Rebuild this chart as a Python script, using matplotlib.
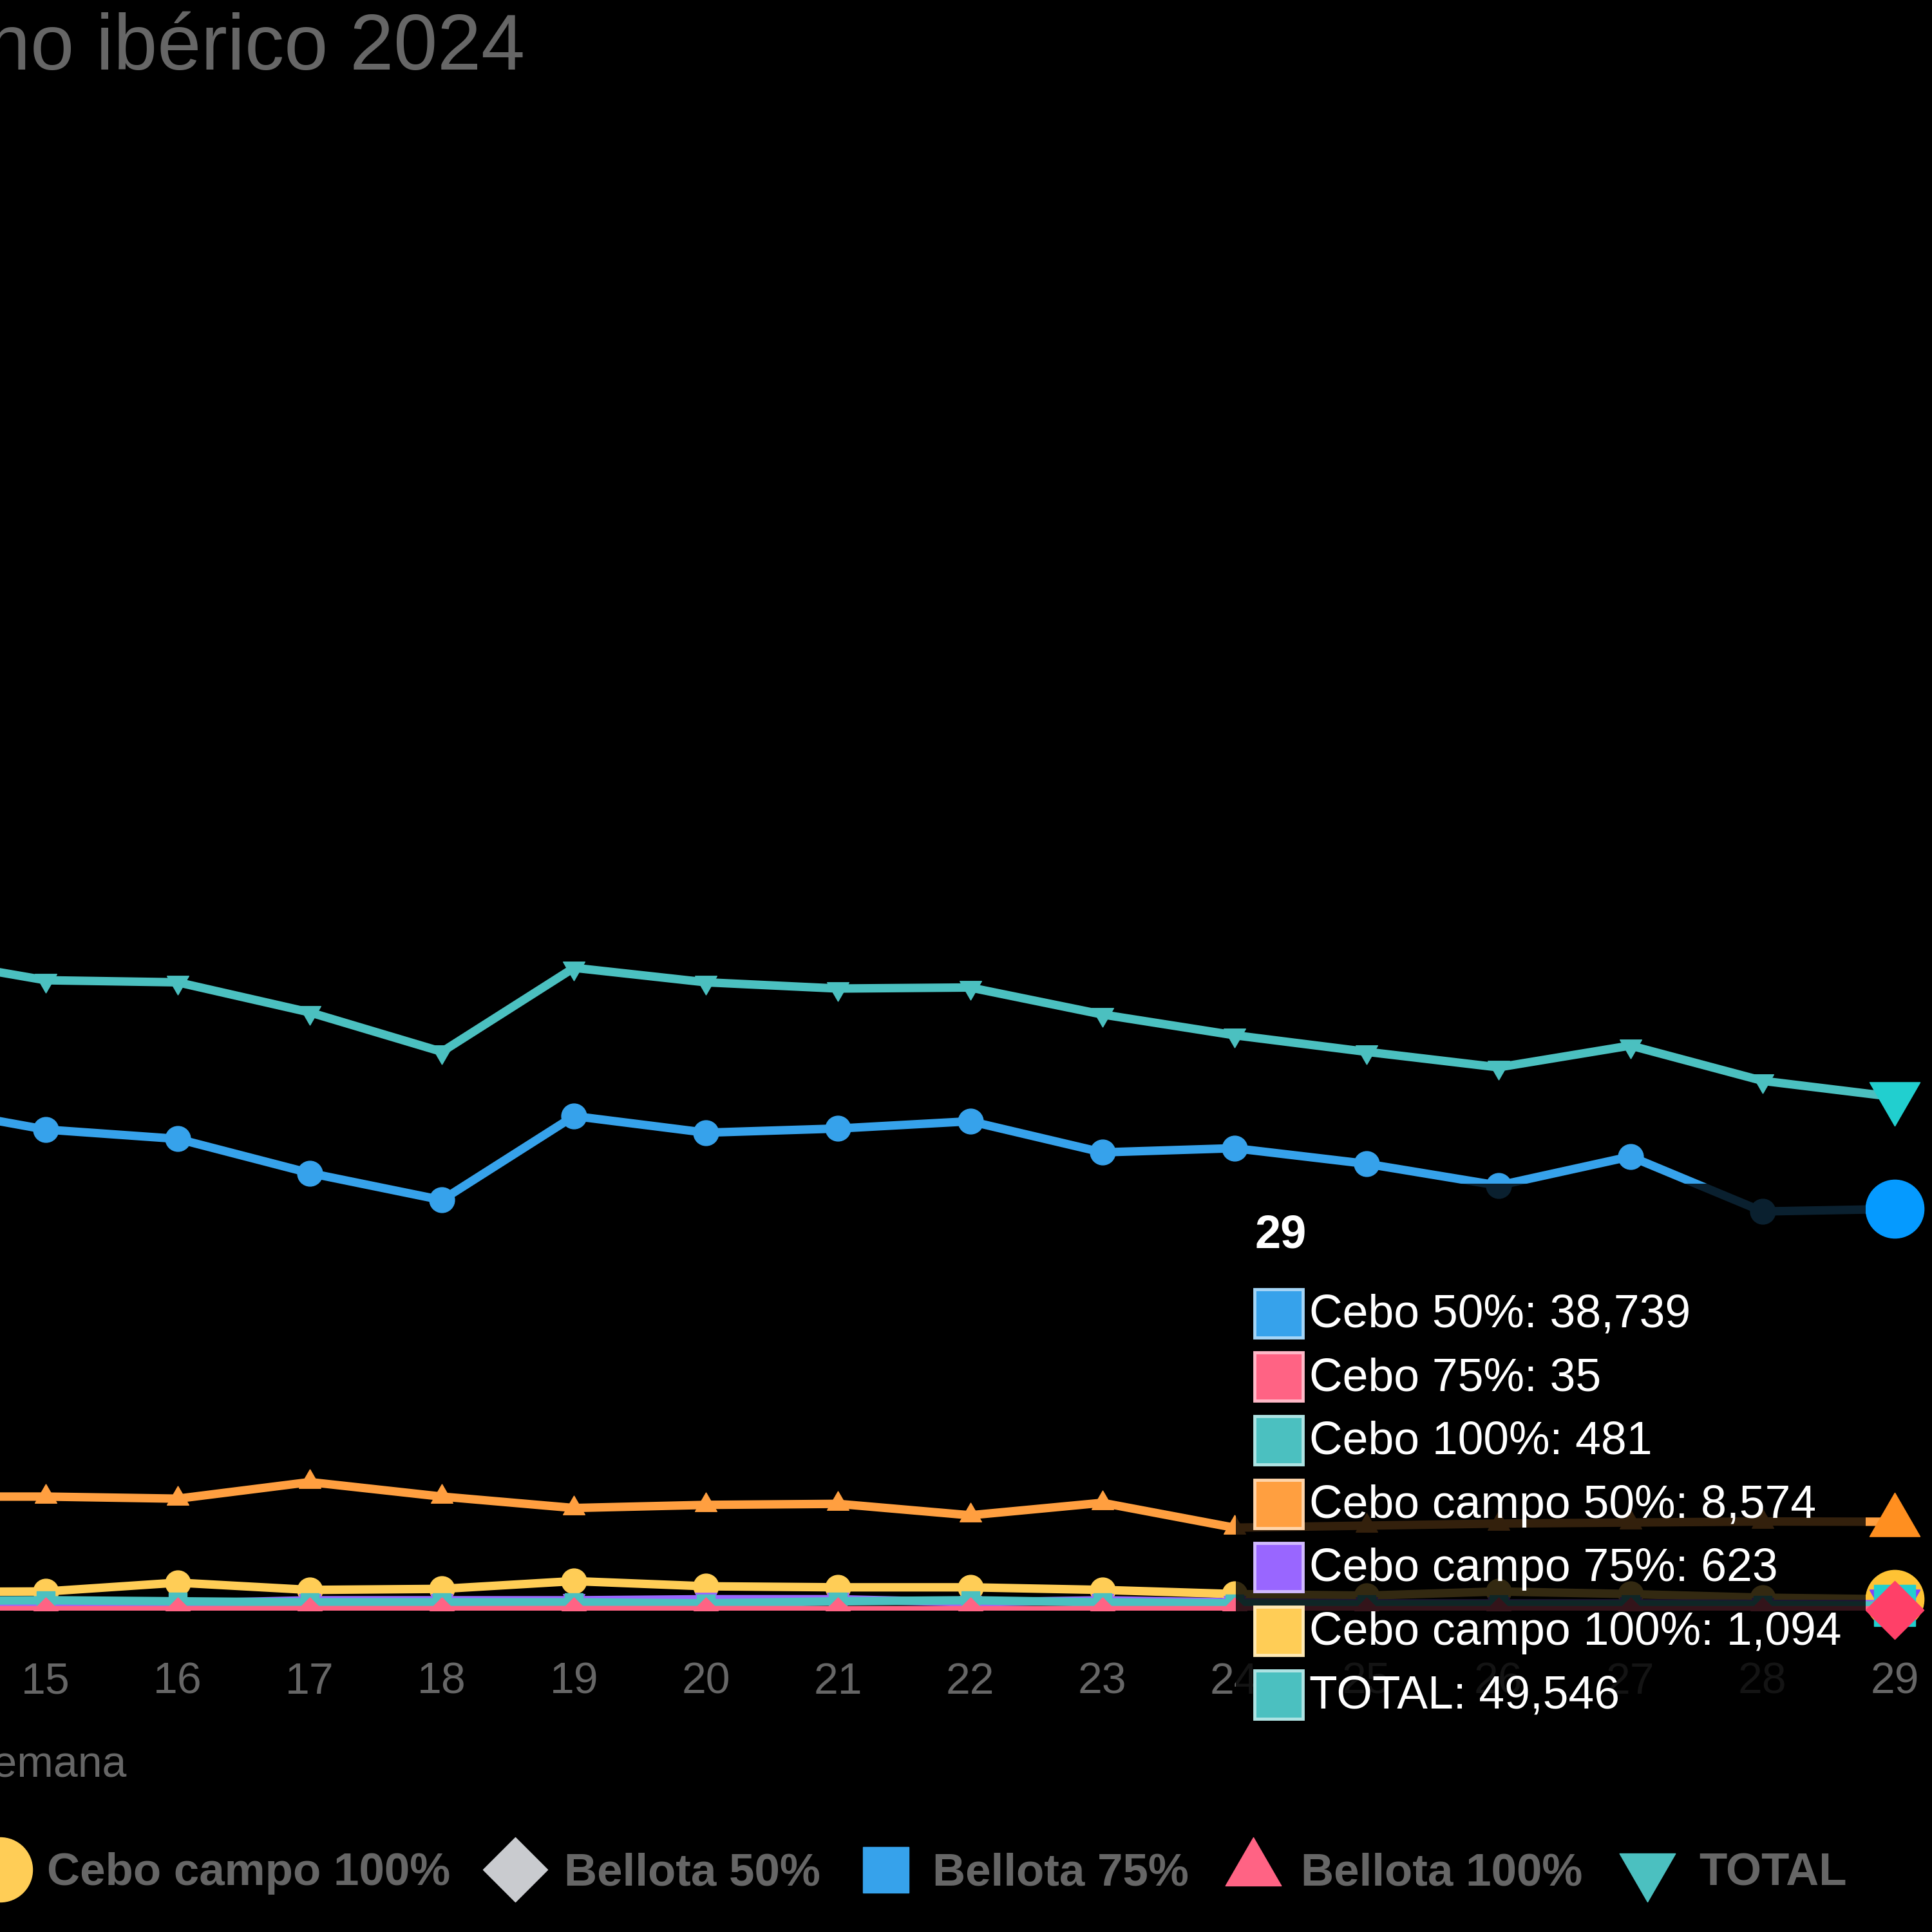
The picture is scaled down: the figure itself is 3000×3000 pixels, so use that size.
import colorsys
import numpy as np
import matplotlib
matplotlib.use('Agg')
import matplotlib.pyplot as plt
from matplotlib.lines import Line2D
from matplotlib.patches import FancyBboxPatch, Rectangle
from matplotlib.path import Path
from matplotlib.colors import to_rgb

plt.rcParams['font.family'] = ['Liberation Sans', 'DejaVu Sans']

TITLE = 'Sacrificio de porcino ibérico 2024'
X_LABEL = 'Semana'
ALL_WEEKS = list(range(1, 30))   # category axis of the chart
WEEKS = list(range(14, 30))      # weeks whose values can be read in the crop

cebo_50 = [48700, 46400, 45500, 42200, 39600, 47700, 46100, 46500,
           47200, 44200, 44600, 43100, 41000, 43800, 38500, 38739]
cebo_75 = [50, 50, 45, 50, 45, 55, 50, 45, 50, 45, 40, 40, 40, 35, 40, 35]
cebo_100 = [950, 1000, 900, 800, 800, 800, 700, 900,
            1000, 800, 700, 600, 600, 600, 550, 481]
cebo_campo_50 = [11000, 11000, 10800, 12400, 11000, 9900, 10200, 10300,
                 9200, 10400, 8000, 8200, 8400, 8500, 8600, 8574]
cebo_campo_75 = [600, 600, 700, 1000, 1000, 1000, 1100, 1100,
                 800, 1000, 800, 700, 700, 700, 650, 623]
cebo_campo_100 = [1800, 1850, 2700, 2000, 2100, 2850, 2350, 2250,
                  2250, 2000, 1600, 1450, 1850, 1600, 1250, 1094]
# no bellota slaughter in these weeks
bellota_50 = [None] * len(WEEKS)
bellota_75 = [None] * len(WEEKS)
bellota_100 = [None] * len(WEEKS)
total = [63000, 60800, 60600, 57700, 53900, 62000, 60600, 60000,
         60100, 57500, 55500, 53900, 52400, 54500, 51100, 49546]

NAMES = ['Cebo 50%', 'Cebo 75%', 'Cebo 100%', 'Cebo campo 50%', 'Cebo campo 75%',
         'Cebo campo 100%', 'Bellota 50%', 'Bellota 75%', 'Bellota 100%', 'TOTAL']
VALUES = [cebo_50, cebo_75, cebo_100, cebo_campo_50, cebo_campo_75,
          cebo_campo_100, bellota_50, bellota_75, bellota_100, total]
COLORS = ['#36a2eb', '#ff6384', '#4bc0c0', '#ff9f40', '#9966ff',
          '#ffcd56', '#c9cbcf', '#36a2eb', '#ff6384', '#4bc0c0']
STYLES = ['circle', 'rectRot', 'rect', 'triangle', 'triangleDown'] * 2

# point shapes, all inscribed in the same circle (marker, size factor)
SHAPES = {
    'circle': ('o', 1.0),
    'rectRot': (Path([(0, 1), (1, 0), (0, -1), (-1, 0), (0, 1)], closed=True), 1.0),
    'rect': ('s', 0.71),
    'triangle': (Path([(0, 1), (-0.866, -0.5), (0.866, -0.5), (0, 1)], closed=True), 1.0),
    'triangleDown': (Path([(0, -1), (-0.866, 0.5), (0.866, 0.5), (0, -1)], closed=True), 1.0),
}

GRAY = '#666666'
PX = 3000.0


def fx(px):
    return px / PX


def fy(py):
    return 1 - py / PX


def hover(c):
    r, g, b = to_rgb(c)
    h, l, s = colorsys.rgb_to_hls(r, g, b)
    return colorsys.hls_to_rgb(h, l * 0.9, min(1.0, s * 1.5))


def lighten(c, f=0.55):
    return tuple(v + (1 - v) * f for v in to_rgb(c))


fig = plt.figure(figsize=(30, 30), dpi=100, facecolor='black')

# chart area runs from week 1 (far left, outside the crop) to week 29
x_left = 71 - 14 * 205.07
ax = fig.add_axes([fx(x_left), fy(2501), fx(2942) - fx(x_left), 140 * 16.1 / PX])
ax.set_facecolor('black')
ax.set_xlim(1, 29)
ax.set_ylim(0, 140000)

n = len(NAMES)
for i, (vals, col, style) in enumerate(zip(VALUES, COLORS, STYLES)):
    marker, k = SHAPES[style]
    z = 10 + (n - i)
    y = np.array(vals, dtype=float)
    ax.plot(WEEKS, y, color=col, lw=9.5, marker=marker, ms=28 * k,
            mfc=col, mec=col, mew=1, zorder=z, solid_joinstyle='round')
    # hovered point of the last week
    hc = hover(col)
    ax.plot(WEEKS[-1:], y[-1:], linestyle='none', marker=marker, ms=65 * k,
            mfc=hc, mec=hc, zorder=z + 0.5, clip_on=False)

ax.set_xticks(ALL_WEEKS)
ax.set_xticklabels([str(w) for w in ALL_WEEKS])
ax.tick_params(axis='x', length=0, pad=129 * 0.72, labelsize=49, labelcolor=GRAY)
plt.setp(ax.get_xticklabels(), va='baseline')
ax.set_yticks([])
for s in ax.spines.values():
    s.set_visible(False)

ax.set_xlabel(X_LABEL, fontsize=49, color=GRAY)
ax.xaxis.set_label_coords(fx(71), fy(2760), transform=fig.transFigure)
ax.xaxis.label.set_va('baseline')

fig.text(fx(815), fy(108), TITLE, ha='right', va='baseline', fontsize=88, color=GRAY)

# legend (first five entries fall left of the crop)
LEGEND_SHOWN = [5, 6, 7, 8, 9]
LEGEND_MARK_X = [0, 800, 1375, 1946, 2558]
LEGEND_TEXT_X = [73, 876, 1448, 2020, 2638]
for i, mx, tx in zip(LEGEND_SHOWN, LEGEND_MARK_X, LEGEND_TEXT_X):
    marker, k = SHAPES[STYLES[i]]
    fig.add_artist(Line2D([fx(mx)], [fy(2903)], transform=fig.transFigure,
                          linestyle='none', marker=marker, ms=72 * k,
                          mfc=COLORS[i], mec=COLORS[i]))
    fig.text(fx(tx), fy(2927), NAMES[i], fontsize=51, fontweight='bold',
             color=GRAY, va='baseline')

# tooltip for the last week
tx0, tx1, ty0, ty1 = 1919, 2897, 1838, 2690
fig.add_artist(FancyBboxPatch((fx(tx0), fy(ty1)), fx(tx1) - fx(tx0), (ty1 - ty0) / PX,
                              boxstyle='round,pad=0,rounding_size=0.008',
                              transform=fig.transFigure, fc=(0, 0, 0, 0.8),
                              ec='none', zorder=5))
fig.text(fx(1949), fy(1938), str(WEEKS[-1]), fontsize=52, fontweight='bold',
         color='white', va='baseline', zorder=6)
rows = [i for i in range(n) if VALUES[i][-1] is not None]
for r, i in enumerate(rows):
    cy = 2039.5 + 98.7 * r
    fig.add_artist(Rectangle((fx(1948), fy(cy + 37)), 75 / PX, 75 / PX,
                             transform=fig.transFigure, fc=COLORS[i],
                             ec=lighten(COLORS[i]), lw=3.5, zorder=6))
    fig.text(fx(2033), fy(cy + 21), f'{NAMES[i]}: {int(VALUES[i][-1]):,}',
             fontsize=51.5, color='white', va='baseline', zorder=6)

fig.savefig('out.png', dpi=100, facecolor='black')
